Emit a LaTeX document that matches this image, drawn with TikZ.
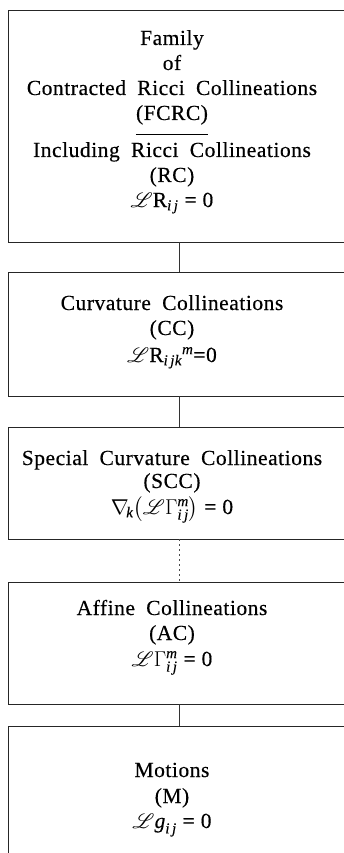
\RequirePackage{fix-cm}
\documentclass[tikz,border=0pt]{standalone}
\usepackage{amsmath}
\usepackage{fontspec}
\setmainfont[LetterSpace=2.5,WordSpace=1.9,FakeBold=0.35]{Liberation Serif}
\usepackage{mathrsfs}
\newcommand{\ti}[1]{\textit{#1}}
\newcommand{\eqz}{\mathrel{\text{=}}\text{0}}
\begin{document}
\begin{tikzpicture}[x=1pt,y=1pt,
  box/.style={draw=black!85, line width=0.9pt, inner sep=0pt, outer sep=0pt},
  txt/.style={anchor=base, inner sep=0pt, font=\fontsize{21.5}{25}\selectfont},
  link/.style={draw=black!80, line width=0.7pt},
  dotlink/.style={draw=black!70, line width=0.7pt, dash pattern=on 2pt off 3pt}]
\useasboundingbox (0,0) rectangle (344,-853);
\clip (0,0) rectangle (344,-853);
% boxes
\node[box, minimum width=342, minimum height=232] (b1) at (179,-126) {};
\node[box, minimum width=342, minimum height=124] (b2) at (179,-334) {};
\node[box, minimum width=342, minimum height=112] (b3) at (179,-483) {};
\node[box, minimum width=342, minimum height=122] (b4) at (179,-643) {};
\node[box, minimum width=342, minimum height=154] (b5) at (179,-803) {};
% box 1 text
\node[txt] (f1) at (172,-45) {Family};
\node[txt] (f2) at (172,-70) {of};
\node[txt] (f3) at (172,-95) {Contracted Ricci Collineations};
\node[txt] (f4) at (172,-120) {(FCRC)};
\draw[line width=0.7pt] ([yshift=-14pt]f4.base west) -- ([yshift=-14pt]f4.base east);
\node[txt] (f5) at (172,-157) {Including Ricci Collineations};
\node[txt] (f6) at (172,-182) {(RC)};
\node[txt] (f7) at (172,-207) {$\mathscr{L}\text{R}_{\ti{i\,j}} \eqz$};
% box 2 text
\node[txt] (c1) at (172,-310) {Curvature Collineations};
\node[txt] (c2) at (172,-335) {(CC)};
\node[txt] (c3) at (172,-362) {$\mathscr{L}\text{R}_{\ti{i\,jk}}{}^{\ti{m}}\text{=0}$};
% box 3 text
\node[txt] (s1) at (172,-465) {Special Curvature Collineations};
\node[txt] (s2) at (172,-488) {(SCC)};
\node[txt] (s3) at (172,-514) {$\nabla_{\!\ti{k}}\bigl(\mathscr{L}\Gamma^{\ti{m}}_{\ti{i\,j}}\bigr) \eqz$};
% box 4 text
\node[txt] (a1) at (172,-615) {Affine Collineations};
\node[txt] (a2) at (172,-640) {(AC)};
\node[txt] (a3) at (172,-666) {$\mathscr{L}\Gamma^{\ti{m}}_{\ti{i\,j}} \eqz$};
% box 5 text
\node[txt] (m1) at (172,-777) {Motions};
\node[txt] (m2) at (172,-803) {(M)};
\node[txt] (m3) at (172,-828) {$\mathscr{L}\ti{g}_{\ti{i\,j}} \eqz$};
% connectors
\draw[link] (b1.south) -- (b2.north);
\draw[link] (b2.south) -- (b3.north);
\draw[dotlink] (b3.south) -- (b4.north);
\draw[link] (b4.south) -- (b5.north);
\end{tikzpicture}
\end{document}
